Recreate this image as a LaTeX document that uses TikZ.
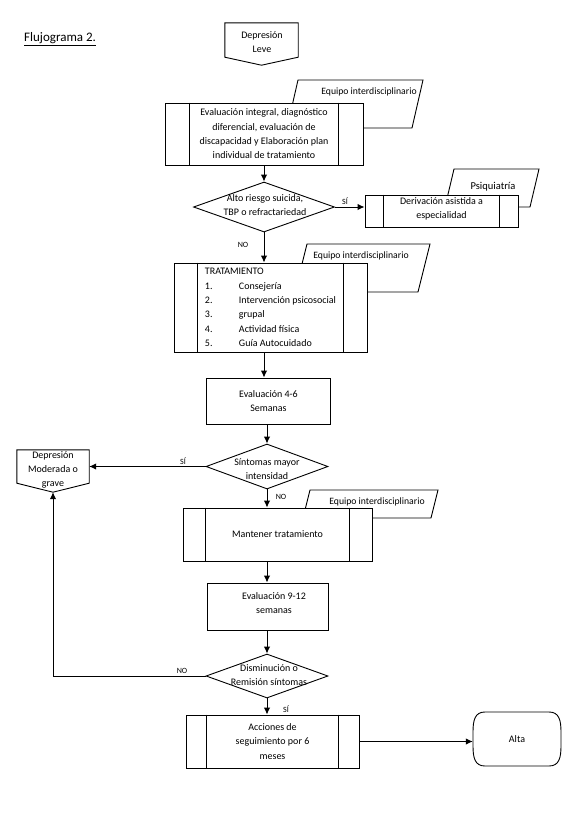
\documentclass[tikz,border=0pt]{standalone}
\usepackage{fontspec}
\setmainfont{Carlito}
\usetikzlibrary{arrows.meta,shapes.geometric,calc}
\begin{document}
\begin{tikzpicture}[x=1pt,y=-1pt,
  every node/.style={font=\fontsize{10}{14.3}\selectfont, inner sep=0pt},
  ln/.style={line width=0.9pt},
  box/.style={draw, ln, fill=white, rectangle, align=center},
  dia/.style={draw, ln, diamond, fill=white, inner sep=0pt},
  lbl/.style={font=\fontsize{8}{9}\selectfont},
  arr/.style={draw, line width=1pt, -{Latex[length=7pt,width=6.5pt]}},
  eqtxt/.style={font=\fontsize{9.7}{11}\selectfont}]
\useasboundingbox (0,0) rectangle (575,817);

% title
\node[anchor=west, font=\fontsize{13}{15}\selectfont] (title) at (24,39) {\underline{Flujograma 2.}};

% Depresion Leve off-page connector
\node[minimum width=73pt, minimum height=34pt] (dl) at (261.5,40) {};
\draw[ln] (dl.north west) -- (dl.north east) -- (dl.south east) -- ($(dl.south)+(0,8)$) -- (dl.south west) -- cycle;
\node[align=center] (dltxt) at (262,42) {Depresión\\Leve};

% Equipo 1 + box 1
\draw[ln] (298,80) -- (423,80) -- (412,128) -- (287,128) -- cycle;
\node[eqtxt] (eq1) at (369,92) {Equipo interdisciplinario};
\node[box, minimum width=198pt, minimum height=62pt] (b1) at (264,134)
  {Evaluación integral, diagnóstico\\diferencial, evaluación de\\discapacidad y Elaboración plan\\individual de tratamiento};
\draw[ln] ([xshift=25pt]b1.north west) -- ([xshift=25pt]b1.south west);
\draw[ln] ([xshift=-25pt]b1.north east) -- ([xshift=-25pt]b1.south east);

% Diamond 1
\node[dia, minimum width=141pt, minimum height=50pt] (d1) at (264,207) {};
\node[align=center] (d1txt) at (265,205) {Alto riesgo suicida,\\TBP o refractariedad};

% Psiquiatria + Derivacion
\draw[ln] (454,169) -- (539,169) -- (530,207) -- (445,207) -- cycle;
\node[font=\fontsize{10.5}{12}\selectfont] (psq) at (493,187) {Psiquiatría};
\node[box, minimum width=153pt, minimum height=32pt] (der) at (441.5,211) {};
\node[align=center] (dertxt) at (441.5,209) {Derivación asistida a\\especialidad};
\draw[ln] ([xshift=19pt]der.north west) -- ([xshift=19pt]der.south west);
\draw[ln] ([xshift=-19pt]der.north east) -- ([xshift=-19pt]der.south east);

% Equipo 2 + Tratamiento
\draw[ln] (307,244) -- (430,244) -- (418,292) -- (295,292) -- cycle;
\node[eqtxt] (eq2) at (361,256) {Equipo interdisciplinario};
\node[box, minimum width=193pt, minimum height=89pt, align=left] (trat) at (270.5,307.5)
  {TRATAMIENTO\\
   \makebox[34pt][l]{1.}Consejería\\
   \makebox[34pt][l]{2.}Intervención psicosocial\\
   \makebox[34pt][l]{3.}grupal\\
   \makebox[34pt][l]{4.}Actividad física\\
   \makebox[34pt][l]{5.}Guía Autocuidado};
\draw[ln] ([xshift=24pt]trat.north west) -- ([xshift=24pt]trat.south west);
\draw[ln] ([xshift=-24pt]trat.north east) -- ([xshift=-24pt]trat.south east);

% Evaluacion 4-6
\node[box, minimum width=124pt, minimum height=46pt] (e46) at (268.5,401) {Evaluación 4-6\\Semanas};

% Diamond 2
\node[dia, minimum width=122pt, minimum height=45pt] (d2) at (267,466.5) {};
\node[align=center] (d2txt) at (267,469) {Síntomas mayor\\intensidad};

% Depresion moderada connector
\node[minimum width=72pt, minimum height=33pt] (mod) at (53,466.5) {};
\coordinate (modtip) at ($(mod.south)+(0,9)$);
\draw[ln] (mod.north west) -- (mod.north east) -- (mod.south east) -- (modtip) -- (mod.south west) -- cycle;
\node[align=center] (modtxt) at (53,470) {Depresión\\Moderada o\\grave};

% Equipo 3 + Mantener
\draw[ln] (310,490) -- (438,490) -- (431,518) -- (303,518) -- cycle;
\node[eqtxt] (eq3) at (377,502) {Equipo interdisciplinario};
\node[box, minimum width=189pt, minimum height=53pt] (mant) at (277.5,534.5) {Mantener tratamiento};
\draw[ln] ([xshift=23pt]mant.north west) -- ([xshift=23pt]mant.south west);
\draw[ln] ([xshift=-23pt]mant.north east) -- ([xshift=-23pt]mant.south east);

% Evaluacion 9-12
\node[box, minimum width=121pt, minimum height=47pt] (e912) at (267.5,606.5) {};
\node[align=center] (e912txt) at (274,603) {Evaluación 9-12\\semanas};

% Diamond 3
\node[dia, minimum width=122pt, minimum height=44pt] (d3) at (267,676) {};
\node[align=center] (d3txt) at (269,675) {Disminución o\\Remisión síntomas};

% Acciones
\node[box, minimum width=173pt, minimum height=53pt] (acc) at (272.5,741.5)
  {Acciones de\\seguimiento por 6\\meses};
\draw[ln] ([xshift=21pt]acc.north west) -- ([xshift=21pt]acc.south west);
\draw[ln] ([xshift=-21pt]acc.north east) -- ([xshift=-21pt]acc.south east);

% Alta (terminator)
\node[minimum width=88pt, minimum height=54pt] (alta) at (517,739) {Alta};
\draw[ln] (485,712) -- (549,712)
  .. controls (559,712) and (561,720) .. (561,732) -- (561,746)
  .. controls (561,758) and (559,766) .. (549,766) -- (485,766)
  .. controls (475,766) and (473,758) .. (473,746) -- (473,732)
  .. controls (473,720) and (475,712) .. (485,712) -- cycle;

% connectors
\draw[arr] (b1.south) -- (d1.north);
\draw[arr] (d1.east) -- (d1.east -| der.west);
\draw[arr] (d1.south) -- (d1.south |- trat.north);
\draw[arr] (trat.south -| d1.south) -- (e46.north -| d1.south);
\draw[arr] (e46.south -| d2.north) -- (d2.north);
\draw[arr] (d2.west) -- (d2.west -| mod.east);
\draw[arr] (d2.south) -- (d2.south |- mant.north);
\draw[arr] (mant.south -| d2.south) -- (e912.north -| d2.south);
\draw[arr] (e912.south -| d3.north) -- (d3.north);
\draw[arr] (d3.west) -| (modtip);
\draw[arr] (d3.south) -- (d3.south |- acc.north);
\draw[arr] (acc.east) -- (acc.east -| alta.west);

% labels
\node[lbl] (l1) at (345,201) {SÍ};
\node[lbl] (l2) at (243,245) {NO};
\node[lbl] (l3) at (183,461) {SÍ};
\node[lbl] (l4) at (281,497) {NO};
\node[lbl] (l5) at (182,671) {NO};
\node[lbl] (l6) at (286,709) {SÍ};
\end{tikzpicture}
\end{document}
